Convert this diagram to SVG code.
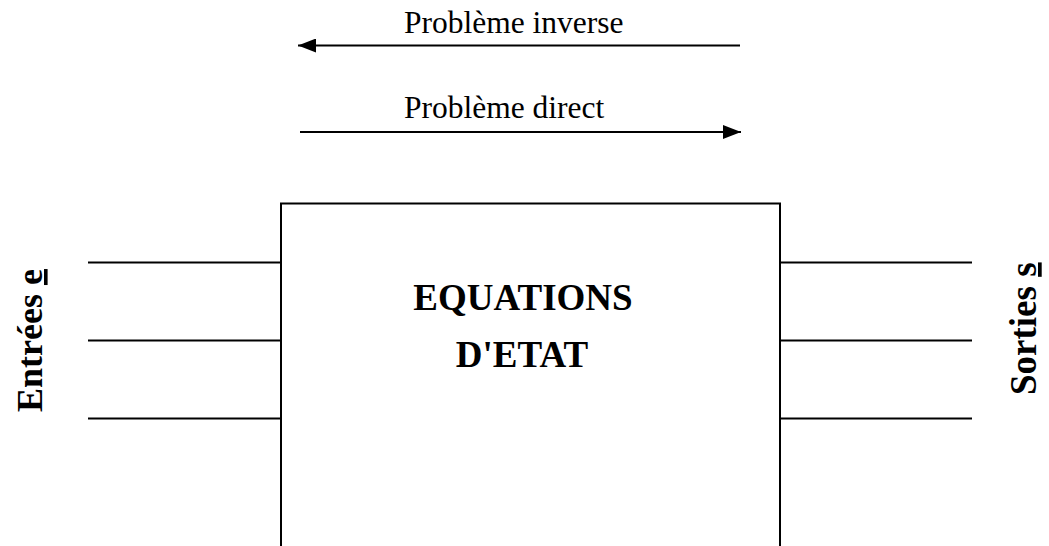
<svg xmlns="http://www.w3.org/2000/svg" width="1049" height="546" viewBox="0 0 1049 546">
  <style>
    .ln { stroke: #000; stroke-width: 2; fill: none; }
    .lbl { font-family: "Liberation Serif", "Times New Roman", serif; font-size: 31.5px; fill: #000; }
    .bold { font-family: "Liberation Serif", "Times New Roman", serif; font-weight: bold; fill: #000; }
    .ul { text-decoration: underline; text-decoration-thickness: 4px; text-underline-offset: 3px; }
  </style>
  <defs>
    <marker id="ah" viewBox="0 0 18 14" refX="18" refY="7" markerWidth="18" markerHeight="14" markerUnits="userSpaceOnUse" orient="auto">
      <path d="M0,0 L18,7 L0,14 Z" fill="#000"/>
    </marker>
  </defs>
  <rect width="1049" height="546" fill="#fff"/>

  <g id="connectors">
    <line class="ln" x1="740" y1="45.5" x2="298" y2="45.5" marker-end="url(#ah)"/>
    <line class="ln" x1="300" y1="132" x2="741" y2="132" marker-end="url(#ah)"/>
    <line class="ln" x1="88" y1="262.5" x2="281" y2="262.5"/>
    <line class="ln" x1="88" y1="340.5" x2="281" y2="340.5"/>
    <line class="ln" x1="88" y1="418.5" x2="281" y2="418.5"/>
    <line class="ln" x1="780" y1="262.5" x2="972" y2="262.5"/>
    <line class="ln" x1="780" y1="340.5" x2="972" y2="340.5"/>
    <line class="ln" x1="780" y1="418.5" x2="972" y2="418.5"/>
  </g>

  <g id="label-inverse">
    <text class="lbl" x="404" y="33">Problème inverse</text>
  </g>
  <g id="label-direct">
    <text class="lbl" x="404" y="118">Problème direct</text>
  </g>

  <g id="node-equations">
    <path class="ln" d="M281,547 V203.5 H780 V547"/>
    <text class="bold" font-size="37" x="523" y="310" text-anchor="middle">EQUATIONS</text>
    <text class="bold" font-size="37" x="522" y="367" text-anchor="middle">D'ETAT</text>
  </g>

  <g id="label-entrees">
    <text class="bold" font-size="36" transform="translate(42,412) rotate(-90)">Entrées <tspan class="ul">e</tspan></text>
  </g>
  <g id="label-sorties">
    <text class="bold" font-size="37" transform="translate(1036,395) rotate(-90)">Sorties <tspan class="ul">s</tspan></text>
  </g>
</svg>
